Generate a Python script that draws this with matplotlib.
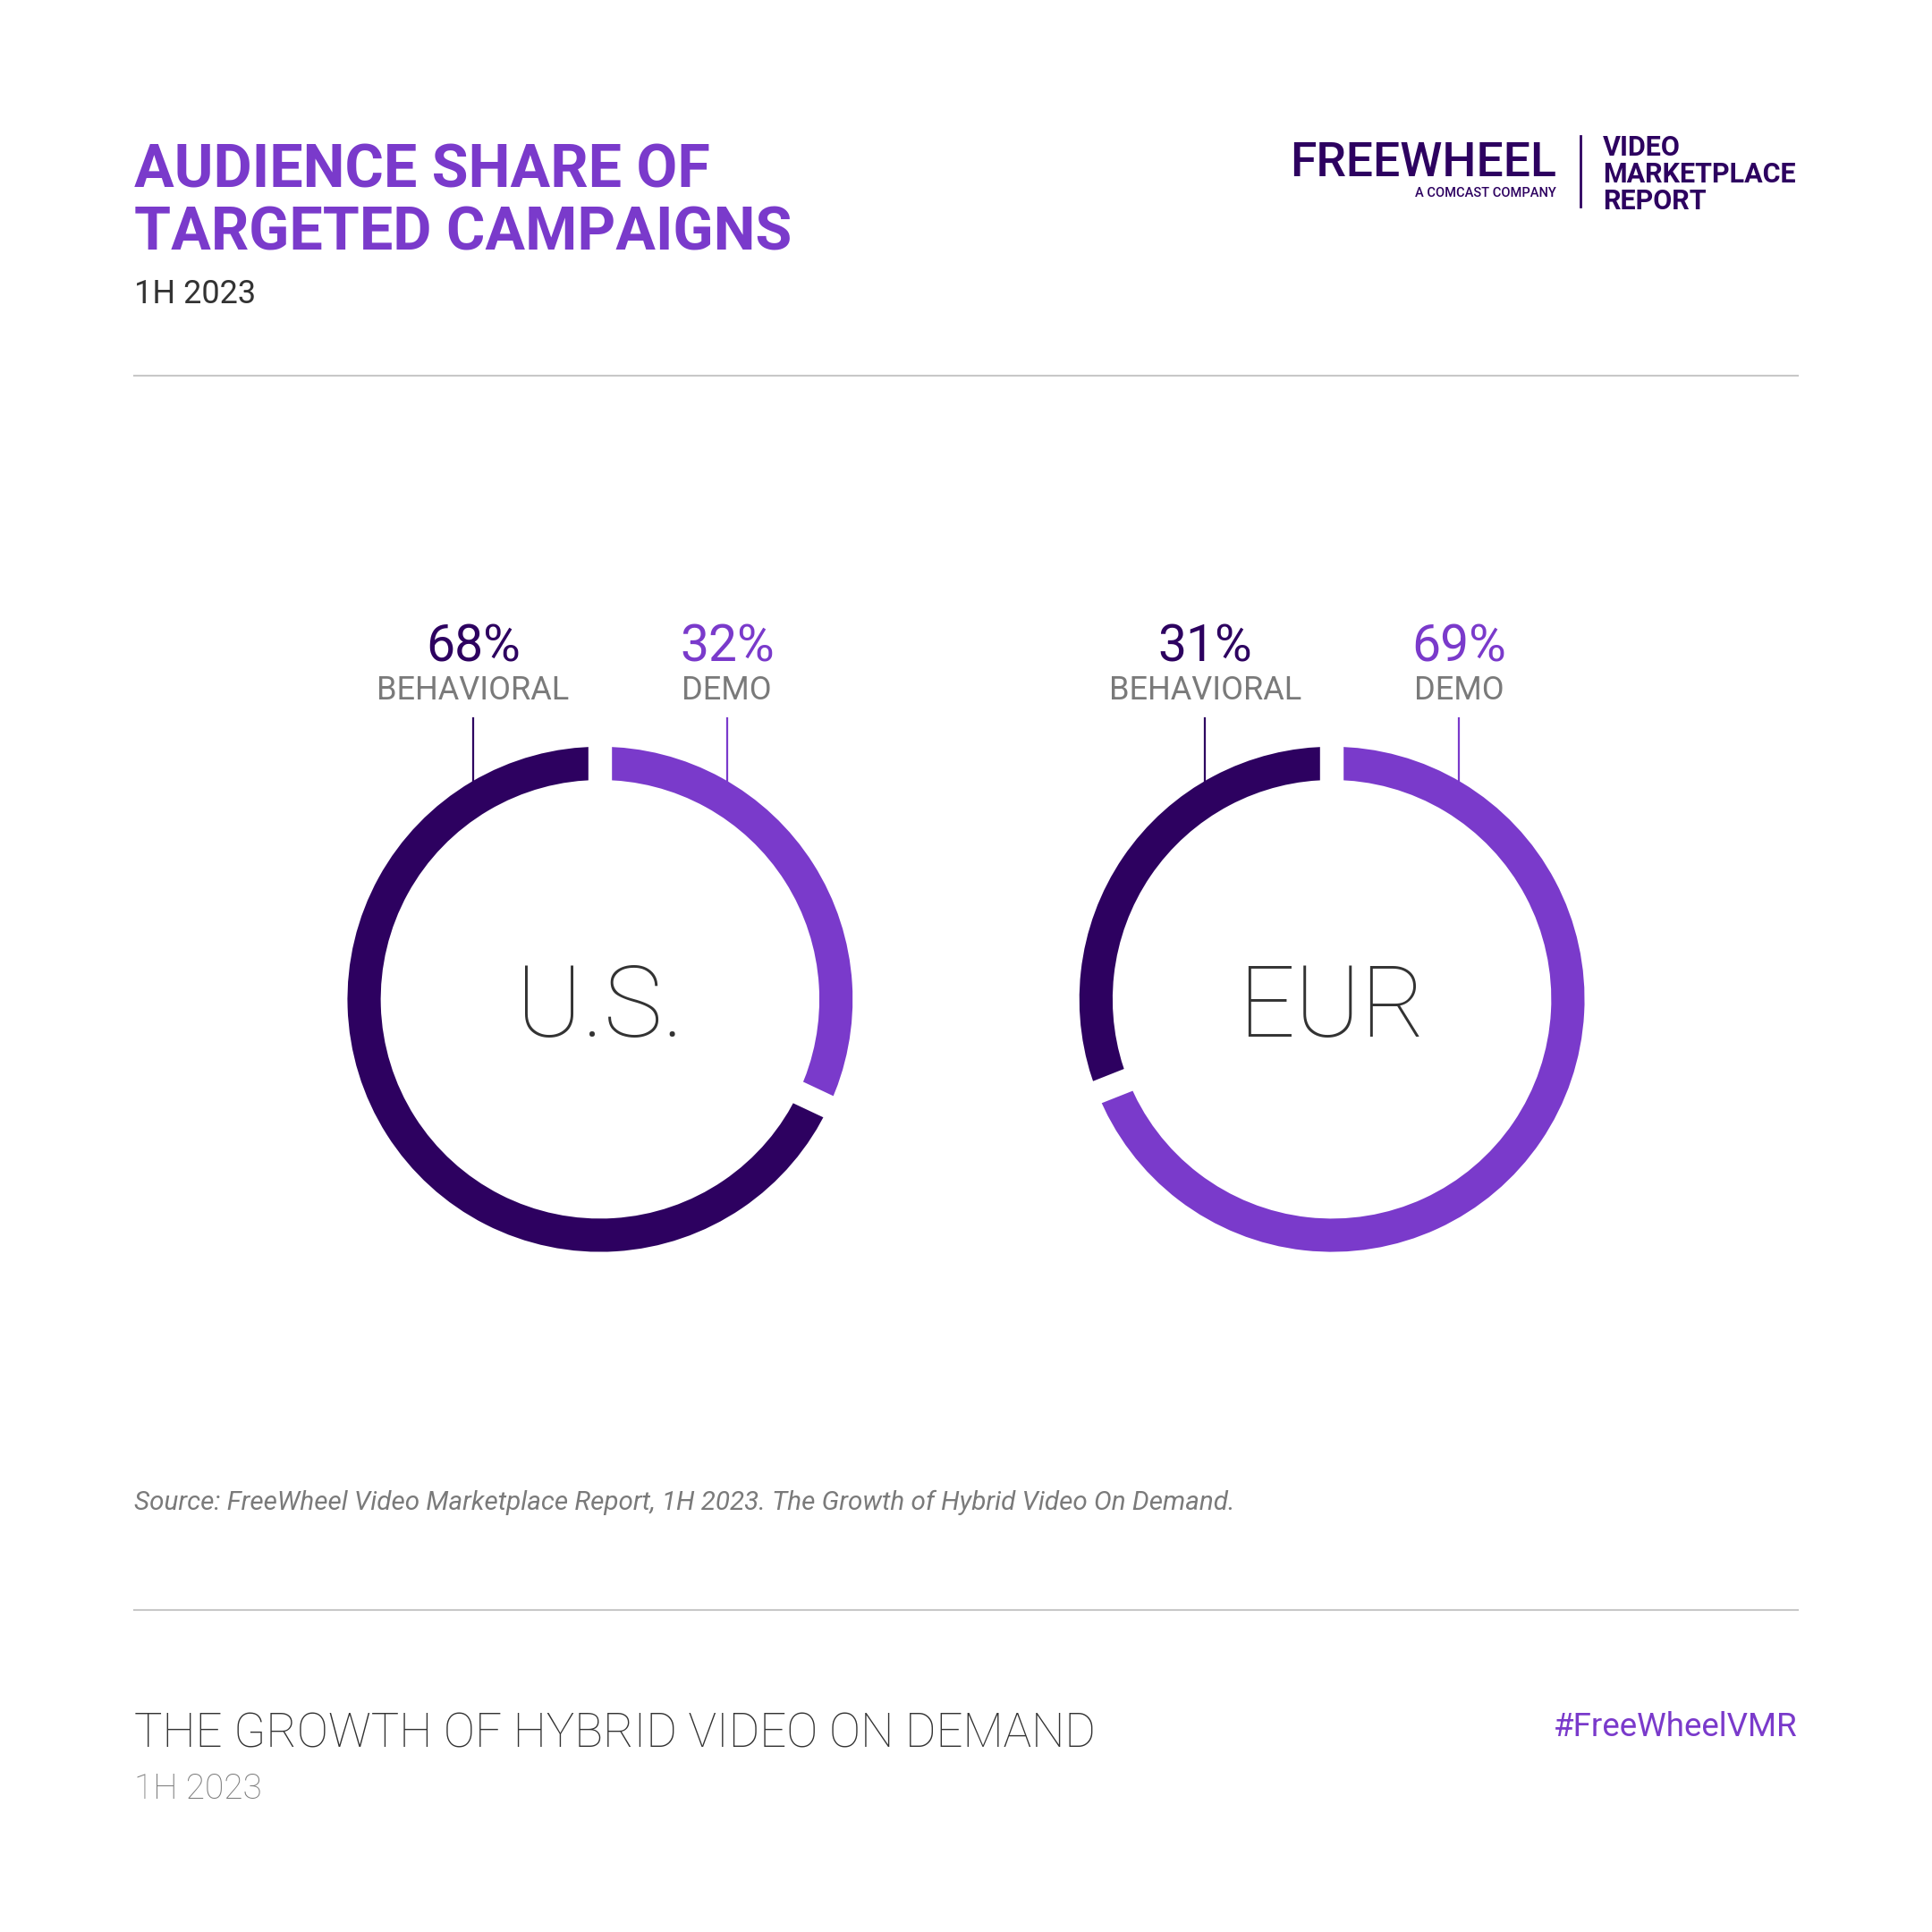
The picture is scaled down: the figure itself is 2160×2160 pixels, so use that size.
import matplotlib
matplotlib.use("Agg")
import matplotlib.pyplot as plt
from matplotlib.lines import Line2D
import numpy as np

# ---------------- data ----------------
regions = ["U.S.", "EUR"]
segment_names = ["DEMO", "BEHAVIORAL"]
demo_share = [32, 69]
behavioral_share = [68, 31]

title_lines = ["AUDIENCE SHARE OF", "TARGETED CAMPAIGNS"]
period = "1H 2023"
source_text = "Source: FreeWheel Video Marketplace Report, 1H 2023. The Growth of Hybrid Video On Demand."
footer_title = "THE GROWTH OF HYBRID VIDEO ON DEMAND"
hashtag = "#FreeWheelVMR"

# ---------------- style ----------------
DARK = "#2D0160"
PURPLE = "#7A3ACB"
TEXT = "#333333"
GRAY = "#7a7a7a"
RULE = "#c8c8c8"
FONT = "Roboto"

W = H = 2160
S = 2160 / 1568.0  # reference display -> full pixels

fig = plt.figure(figsize=(21.6, 21.6), dpi=100)
fig.patch.set_facecolor("white")


def fx(x):
    return x * S / W


def fy(y):
    return 1 - y * S / H


def ftext(x, y, s, size, color, weight="normal", ha="left", va="baseline", style="normal"):
    fig.text(fx(x), fy(y), s, fontsize=size, color=color, fontweight=weight,
             ha=ha, va=va, family=FONT, fontstyle=style)


# header
ftext(109, 152, title_lines[0], 47.8, PURPLE, weight="bold")
ftext(109, 203, title_lines[1], 47.8, PURPLE, weight="bold")
ftext(109, 246, period, 26, TEXT, weight="normal")
fig.add_artist(Line2D([fx(109), fx(1459)], [fy(305), fy(305)], color=RULE, lw=1.5,
                      transform=fig.transFigure))

# logo
ftext(1263, 143, "FREEWHEEL", 38.5, DARK, weight="medium", ha="right")
ftext(1263, 160, "A COMCAST COMPANY", 10.5, DARK, weight="medium", ha="right")
fig.add_artist(Line2D([fx(1283), fx(1283)], [fy(110), fy(168)], color=DARK, lw=2,
                      transform=fig.transFigure))
for i, w in enumerate(["VIDEO", "MARKETPLACE", "REPORT"]):
    ftext(1301, 126 + 22 * i, w, 22, DARK, weight="bold")

# donuts
centers = [(487, 811), (1081, 811)]
R_disp = 205
ring = 27 / R_disp
for (cx, cy), reg, d, b in zip(centers, regions, demo_share, behavioral_share):
    ax = fig.add_axes([fx(cx - R_disp), fy(cy + R_disp), 2 * R_disp * S / W, 2 * R_disp * S / H])
    ax.pie([d, b], colors=[PURPLE, DARK], startangle=90, counterclock=False, radius=1,
           wedgeprops=dict(width=ring, edgecolor="none"))
    ax.set_xlim(-1, 1)
    ax.set_ylim(-1, 1)
    ax.set_aspect("equal")
    ax.axis("off")
    # gaps between segments
    for ang in [90, 90 - 360 * d / 100.0]:
        a = np.deg2rad(ang)
        r0, r1 = 1 - ring - 0.03, 1.03
        ax.plot([r0 * np.cos(a), r1 * np.cos(a)], [r0 * np.sin(a), r1 * np.sin(a)],
                color="white", lw=19, solid_capstyle="butt", zorder=5, clip_on=False)
    ax.text(0, -0.147, reg, ha="center", va="baseline", fontsize=80, color=TEXT,
            family=FONT, fontweight="light", zorder=7)
    # labels
    lx = 103 / R_disp
    ly0 = np.sqrt(1 - lx ** 2)
    ly1 = (cy - 583) / R_disp
    for sx, val, name, col in [(-lx, b, segment_names[1], DARK), (lx, d, segment_names[0], PURPLE)]:
        ax.plot([sx, sx], [ly0, ly1], color=col, lw=1.6, clip_on=False, zorder=6)
        ax.text(sx, (cy - 537) / R_disp, f"{val}%", ha="center", va="baseline", fontsize=41,
                color=col, family=FONT, fontweight="normal", clip_on=False)
        ax.text(sx, (cy - 568) / R_disp, name, ha="center", va="baseline", fontsize=26,
                color=GRAY, family=FONT, fontweight="normal", clip_on=False)

# footer
ftext(109, 1225, source_text, 21.3, GRAY, weight="normal", style="italic")
fig.add_artist(Line2D([fx(109), fx(1459)], [fy(1307), fy(1307)], color=RULE, lw=1.5,
                      transform=fig.transFigure))
ftext(109, 1418, footer_title, 38, TEXT, weight="light")
ftext(109, 1460, period, 28, GRAY, weight="light")
ftext(1459, 1409, hashtag, 26.5, PURPLE, weight="normal", ha="right")

fig.savefig("out.png", dpi=100, facecolor="white")
